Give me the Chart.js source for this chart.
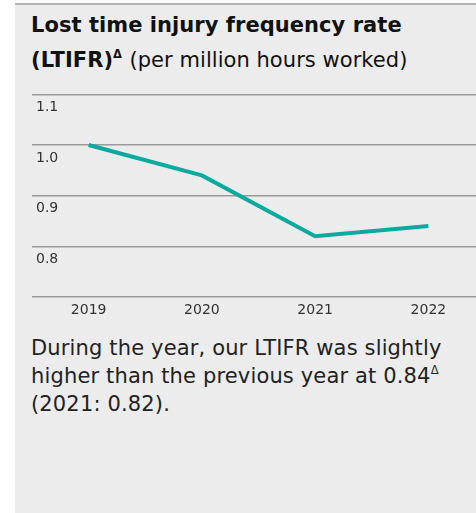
<!DOCTYPE html>
<html>
<head>
<meta charset="utf-8">
<script src="https://cdn.jsdelivr.net/npm/chart.js@4.4.1/dist/chart.umd.min.js"></script>
<style>
  html, body { margin: 0; padding: 0; background: #fff; overflow: hidden; }
  body { width: 476px; height: 513px; position: relative; font-family: "DejaVu Sans", sans-serif; }
  .panel { position: absolute; left: 15px; top: 3px; width: 470px; height: 510px; background: #ececec; border-top: 2px solid #b3b3b3; }
  .title { position: absolute; left: 31px; top: 8px; font-size: 21px; line-height: 35px; color: #111; font-weight: 700; white-space: nowrap; letter-spacing: 0.05px; }
  .title .sub { font-weight: 400; }
  sup { font-size: 0.55em; vertical-align: 0.75em; line-height: 0; }
  .wrap { position: absolute; left: 32px; top: 82px; width: 453px; height: 245px; }
  .note { position: absolute; left: 31px; top: 334px; font-size: 21px; line-height: 28px; color: #222; white-space: nowrap; letter-spacing: 0.15px; }
</style>
</head>
<body>
<div class="panel"></div>
<div class="title">Lost time injury frequency rate<br>(LTIFR)<sup>Δ</sup> <span class="sub">(per million hours worked)</span></div>
<div class="wrap"><canvas id="ltifr"></canvas></div>
<div class="note">During the year, our LTIFR was slightly<br>higher than the previous year at 0.84<sup>Δ</sup><br>(2021: 0.82).</div>
<script>
var years = ['2019', '2020', '2021', '2022'];
var ltifr = [1.0, 0.94, 0.82, 0.84];
var yTicks = [0.7, 0.8, 0.9, 1.0, 1.1];

var tickFont = { family: 'DejaVu Sans', size: 14 };

var ctx = document.getElementById('ltifr').getContext('2d');
var chart = new Chart(ctx, {
    type: 'line',
    data: {
        labels: years,
        datasets: [{
            label: 'LTIFR',
            data: ltifr,
            borderColor: '#0aaa9e',
            borderWidth: 4,
            pointRadius: 0,
            tension: 0,
            fill: false
        }]
    },
    options: {
        responsive: true,
        maintainAspectRatio: false,
        animation: false,
        layout: { padding: 0 },
        plugins: {
            legend: { display: false },
            tooltip: { enabled: false }
        },
        scales: {
            x: {
                offset: true,
                grid: { display: false, drawTicks: false },
                border: { display: false },
                ticks: { color: '#333', padding: 5, font: tickFont },
                afterFit: function (s) { s.height = 30; }
            },
            y: {
                min: yTicks[0],
                max: yTicks[yTicks.length - 1],
                afterBuildTicks: function (s) {
                    s.ticks = yTicks.map(function (v) { return { value: v }; });
                },
                grid: { color: '#9a9a9a', lineWidth: 1.5, drawTicks: false },
                border: { display: false },
                ticks: {
                    mirror: true,
                    padding: 4,
                    labelOffset: 13,
                    color: '#333',
                    font: tickFont,
                    callback: function (v) { return v === yTicks[0] ? '' : v.toFixed(1); }
                },
                afterFit: function (s) { s.width = 0; }
            }
        }
    }
});
</script>
</body>
</html>
